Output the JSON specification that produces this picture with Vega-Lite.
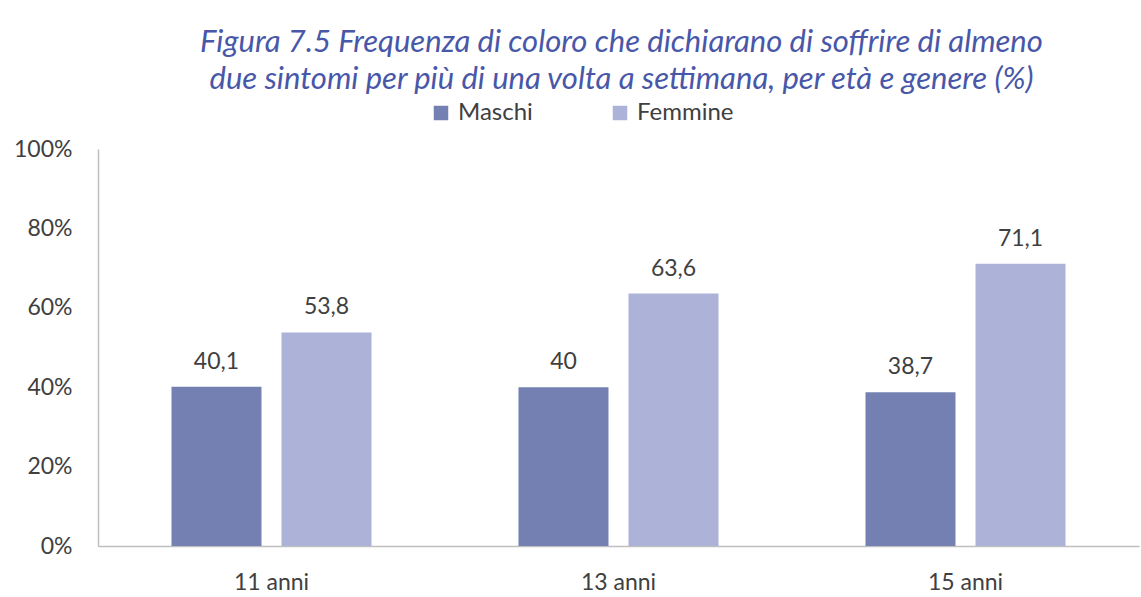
{
  "$schema": "https://vega.github.io/schema/vega-lite/v6.json",
  "width": 1041,
  "height": 397,
  "autosize": {"type": "none"},
  "padding": {"left": 98, "top": 149, "right": 2, "bottom": 51},
  "background": "white",
  "config": {
    "view": {"stroke": null},
    "locale": {"number": {"decimal": ",", "thousands": ".", "grouping": [3], "currency": ["€", ""]}},
    "font": "Lato"
  },
  "title": {
    "text": ["Figura 7.5 Frequenza di coloro che dichiarano di soffrire di almeno", "due sintomi per più di una volta a settimana, per età e genere (%)"],
    "font": "Lato",
    "fontStyle": "italic",
    "fontWeight": "normal",
    "fontSize": 31,
    "lineHeight": 37,
    "color": "#4857A8",
    "anchor": "middle",
    "frame": "group",
    "offset": 5,
    "dx": 3
  },
  "data": {
    "values": [
      {"eta": "11 anni", "genere": "Maschi", "valore": 40.1},
      {"eta": "11 anni", "genere": "Femmine", "valore": 53.8},
      {"eta": "13 anni", "genere": "Maschi", "valore": 40},
      {"eta": "13 anni", "genere": "Femmine", "valore": 63.6},
      {"eta": "15 anni", "genere": "Maschi", "valore": 38.7},
      {"eta": "15 anni", "genere": "Femmine", "valore": 71.1}
    ]
  },
  "encoding": {
    "x": {
      "field": "eta",
      "type": "nominal",
      "scale": {"paddingInner": 0, "paddingOuter": 0},
      "axis": {
        "title": null,
        "labelAngle": 0,
        "labelFont": "Lato",
        "labelFontSize": 23,
        "labelColor": "#404040",
        "labelPadding": 25,
        "ticks": false,
        "domainColor": "#BFBFBF",
        "domainWidth": 1.5
      }
    },
    "xOffset": {
      "field": "genere",
      "type": "nominal",
      "sort": ["Maschi", "Femmine"],
      "scale": {"paddingInner": 0.1818, "paddingOuter": 0.668}
    },
    "y": {
      "field": "valore",
      "type": "quantitative",
      "scale": {"domain": [0, 100]},
      "axis": {
        "title": null,
        "values": [0, 20, 40, 60, 80, 100],
        "labelExpr": "datum.value + '%'",
        "labelFont": "Lato",
        "labelFontSize": 23,
        "labelColor": "#404040",
        "labelPadding": 26,
        "ticks": false,
        "grid": false,
        "domainColor": "#BFBFBF",
        "domainWidth": 1.5
      }
    }
  },
  "layer": [
    {
      "mark": {"type": "bar"},
      "encoding": {
        "color": {
          "field": "genere",
          "type": "nominal",
          "sort": ["Maschi", "Femmine"],
          "scale": {"domain": ["Maschi", "Femmine"], "range": ["#7480B2", "#ADB3D8"]},
          "legend": {
            "title": null,
            "orient": "none",
            "direction": "horizontal",
            "legendX": 331,
            "legendY": -48,
            "symbolType": "square",
            "symbolSize": 210,
            "symbolStrokeWidth": 0,
            "labelFont": "Lato",
            "labelFontSize": 24,
            "labelColor": "#404040",
            "labelOffset": 5,
            "columnPadding": 75
          }
        }
      }
    },
    {
      "mark": {"type": "text", "baseline": "alphabetic", "dy": -18, "fontSize": 23, "font": "Lato", "color": "#404040"},
      "encoding": {
        "text": {"field": "valore", "type": "quantitative", "format": "~g"}
      }
    }
  ]
}
